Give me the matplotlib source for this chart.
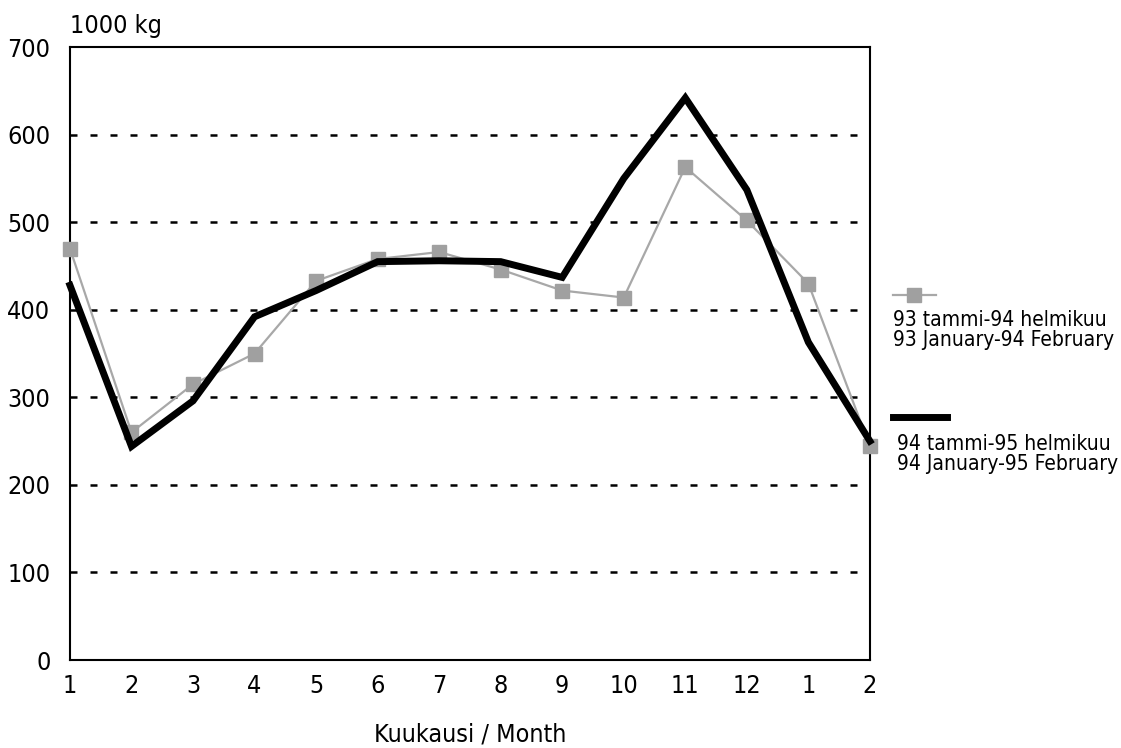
import matplotlib
matplotlib.use("Agg")
import matplotlib.pyplot as plt
from matplotlib.lines import Line2D

plt.rcParams['font.family'] = ['DejaVu Sans']
plt.rcParams['font.stretch'] = 'condensed'

# Data (1000 kg per month)
months = ["1", "2", "3", "4", "5", "6", "7", "8", "9", "10", "11", "12", "1", "2"]
series_93_94 = [470, 260, 315, 350, 433, 458, 466, 446, 422, 414, 563, 502, 430, 244]
series_94_95 = [428, 244, 296, 392, 422, 455, 456, 455, 437, 550, 642, 537, 363, 250]
label_93 = "93 tammi-94 helmikuu\n93 January-94 February"
label_94 = "94 tammi-95 helmikuu\n94 January-95 February"

fig = plt.figure(figsize=(11.21, 7.48), dpi=100)
ax = fig.add_axes([0.0624, 0.1176, 0.7136, 0.8194])

x = list(range(len(months)))
ax.plot(x, series_93_94, color="#a8a8a8", lw=1.6, marker="s", ms=10,
        mfc="#a0a0a0", mec="#a0a0a0", clip_on=False, zorder=3)
ax.plot(x, series_94_95, color="black", lw=5, solid_joinstyle="miter",
        clip_on=False, zorder=4)

ax.set_xlim(0, len(months) - 1)
ax.set_ylim(0, 700)
ax.set_yticks(range(0, 701, 100))
ax.set_xticks(x)
ax.set_xticklabels(months)
ax.tick_params(axis="both", labelsize=18, length=0, pad=10)
ax.tick_params(axis="y", pad=14)

for v in range(100, 700, 100):
    ax.axhline(v, color="black", lw=1.8, ls=(0, (2.8, 5.2)), zorder=1)

for s in ax.spines.values():
    s.set_linewidth(1.5)

ax.text(0.0, 1.015, "1000 kg", transform=ax.transAxes, fontsize=18,
        ha="left", va="bottom")
ax.set_xlabel("Kuukausi / Month", fontsize=18, labelpad=18)

# legend drawn at right
fig.add_artist(Line2D([0.797, 0.815, 0.835], [0.606, 0.606, 0.606], color="#a8a8a8", lw=1.6,
                      marker="s", ms=10, markevery=[1], mfc="#a0a0a0", mec="#a0a0a0",
                      transform=fig.transFigure, clip_on=False))
fig.text(0.797, 0.585, label_93, fontsize=15, ha="left", va="top", linespacing=1.0)
fig.add_artist(Line2D([0.797, 0.845], [0.443, 0.443], color="black", lw=5,
                      transform=fig.transFigure, clip_on=False))
fig.text(0.800, 0.420, label_94, fontsize=15, ha="left", va="top", linespacing=1.0)

fig.savefig("out.png", dpi=100)
